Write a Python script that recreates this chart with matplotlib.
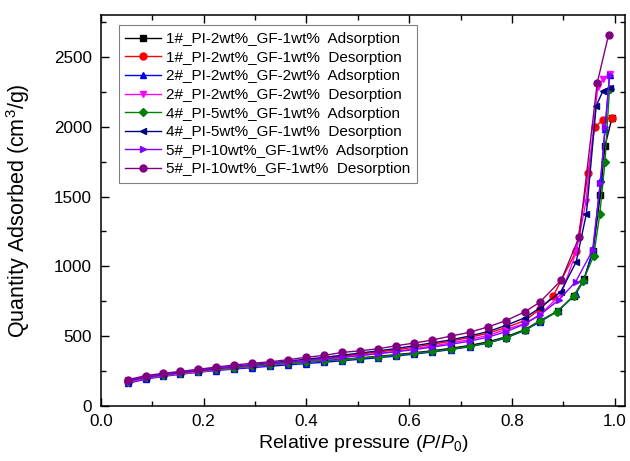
import matplotlib
matplotlib.use("Agg")
import matplotlib.pyplot as plt
from matplotlib.ticker import MultipleLocator

plt.rcParams['font.family'] = ['Liberation Sans', 'DejaVu Sans']
plt.rcParams['mathtext.fontset'] = 'custom'
plt.rcParams['mathtext.rm'] = 'Liberation Sans'
plt.rcParams['mathtext.it'] = 'Liberation Sans:italic'

# 1# PI-2wt% GF-1wt%
p_1a = [0.052, 0.087, 0.121, 0.155, 0.190, 0.225, 0.260, 0.295, 0.330, 0.365, 0.400, 0.435, 0.470, 0.505,
        0.540, 0.575, 0.610, 0.645, 0.681, 0.718, 0.754, 0.788, 0.825, 0.854, 0.890, 0.921, 0.940, 0.958,
        0.972, 0.981, 0.995]
q_1a = [175, 200, 218, 234, 248, 260, 272, 283, 294, 304, 314, 323, 333, 343,
        354, 366, 379, 394, 411, 432, 458, 493, 545, 607, 680, 790, 905, 1110,
        1511, 1861, 2066]
p_1d = [0.995, 0.977, 0.961, 0.948, 0.925, 0.880, 0.854, 0.825, 0.788, 0.754, 0.718, 0.681, 0.645, 0.610,
        0.575, 0.540, 0.505, 0.470, 0.435, 0.400, 0.365, 0.330, 0.295, 0.260, 0.225, 0.190, 0.155, 0.121,
        0.087, 0.052]
q_1d = [2066, 2047, 1999, 1665, 1108, 784, 690, 610, 560, 520, 490, 462, 440, 420,
        400, 385, 370, 355, 340, 325, 312, 300, 288, 275, 262, 248, 234, 220,
        200, 170]

# 2# PI-2wt% GF-2wt%
p_2a = [0.052, 0.087, 0.121, 0.155, 0.190, 0.225, 0.260, 0.295, 0.330, 0.365, 0.400, 0.435, 0.470, 0.505,
        0.540, 0.575, 0.610, 0.645, 0.681, 0.718, 0.754, 0.788, 0.825, 0.854, 0.890, 0.924, 0.940, 0.958,
        0.973, 0.981, 0.990]
q_2a = [160, 190, 210, 225, 240, 252, 263, 273, 283, 293, 302, 312, 322, 333,
        344, 356, 370, 385, 402, 423, 450, 485, 540, 600, 680, 800, 900, 1120,
        1624, 1987, 2369]
p_2d = [0.990, 0.978, 0.967, 0.944, 0.925, 0.896, 0.854, 0.825, 0.788, 0.754, 0.718, 0.681, 0.645, 0.610,
        0.575, 0.540, 0.505, 0.470, 0.435, 0.400, 0.365, 0.330, 0.295, 0.260, 0.225, 0.190, 0.155, 0.121,
        0.087, 0.052]
q_2d = [2376, 2345, 2285, 1461, 1100, 800, 650, 590, 545, 505, 475, 450, 428, 408,
        390, 374, 360, 345, 330, 316, 304, 292, 280, 268, 255, 241, 228, 213,
        195, 165]

# 4# PI-5wt% GF-1wt%
p_4a = [0.052, 0.087, 0.121, 0.155, 0.190, 0.225, 0.260, 0.295, 0.330, 0.365, 0.400, 0.435, 0.470, 0.505,
        0.540, 0.575, 0.610, 0.645, 0.681, 0.718, 0.754, 0.788, 0.825, 0.854, 0.888, 0.921, 0.938, 0.959,
        0.971, 0.981, 0.990]
q_4a = [178, 203, 220, 236, 250, 262, 273, 284, 295, 305, 313, 322, 331, 341,
        351, 362, 375, 389, 405, 425, 452, 488, 540, 607, 673, 788, 893, 1072,
        1373, 1744, 2274]
p_4d = [0.990, 0.977, 0.964, 0.945, 0.925, 0.895, 0.854, 0.825, 0.788, 0.754, 0.718, 0.681, 0.645, 0.610,
        0.575, 0.540, 0.505, 0.470, 0.435, 0.400, 0.365, 0.330, 0.295, 0.260, 0.225, 0.190, 0.155, 0.121,
        0.087, 0.052]
q_4d = [2278, 2256, 2149, 1378, 1030, 817, 700, 630, 575, 532, 500, 472, 450, 430,
        410, 393, 378, 362, 347, 333, 320, 307, 295, 282, 268, 254, 240, 225,
        207, 178]

# 5# PI-10wt% GF-1wt%
p_5a = [0.052, 0.087, 0.121, 0.155, 0.190, 0.225, 0.260, 0.295, 0.330, 0.365, 0.400, 0.435, 0.470, 0.505,
        0.540, 0.575, 0.610, 0.645, 0.681, 0.718, 0.754, 0.788, 0.825, 0.854, 0.891, 0.924, 0.957,
        0.972, 0.982, 0.990]
q_5a = [182, 207, 225, 241, 256, 269, 281, 292, 303, 314, 324, 336, 348, 360,
        373, 387, 402, 420, 440, 463, 492, 530, 585, 650, 757, 888, 1115,
        1600, 2000, 2370]
p_5d = [0.988, 0.966, 0.931, 0.896, 0.854, 0.825, 0.788, 0.754, 0.718, 0.681, 0.645, 0.610, 0.575, 0.540,
        0.505, 0.470, 0.435, 0.400, 0.365, 0.330, 0.295, 0.260, 0.225, 0.190, 0.155, 0.121, 0.087, 0.052]
q_5d = [2658, 2314, 1211, 900, 741, 673, 609, 566, 526, 499, 471, 449, 430, 408,
        394, 382, 361, 347, 330, 315, 304, 292, 277, 261, 246, 232, 215, 186]

series = [
    (p_1a, q_1a, "1#_PI-2wt%_GF-1wt%  Adsorption", "black", "s"),
    (p_1d, q_1d, "1#_PI-2wt%_GF-1wt%  Desorption", "red", "o"),
    (p_2a, q_2a, "2#_PI-2wt%_GF-2wt%  Adsorption", "blue", "^"),
    (p_2d, q_2d, "2#_PI-2wt%_GF-2wt%  Desorption", "magenta", "v"),
    (p_4a, q_4a, "4#_PI-5wt%_GF-1wt%  Adsorption", "green", "D"),
    (p_4d, q_4d, "4#_PI-5wt%_GF-1wt%  Desorption", "navy", "<"),
    (p_5a, q_5a, "5#_PI-10wt%_GF-1wt%  Adsorption", "#8000FF", ">"),
    (p_5d, q_5d, "5#_PI-10wt%_GF-1wt%  Desorption", "purple", "o"),
]

fig = plt.figure(figsize=(6.3, 4.61), dpi=100)
ax = fig.add_axes([0.160, 0.120, 0.832, 0.847])

for p, q, lab, col, mk in series:
    ms = 4 if mk in ("s", "D") else 5
    ax.plot(p, q, color=col, marker=mk, markersize=ms, linewidth=1.0, label=lab)

ax.set_xlim(0, 1.02)
ax.set_ylim(0, 2800)
ax.xaxis.set_major_locator(MultipleLocator(0.2))
ax.xaxis.set_minor_locator(MultipleLocator(0.1))
ax.yaxis.set_major_locator(MultipleLocator(500))
ax.yaxis.set_minor_locator(MultipleLocator(250))
ax.xaxis.set_major_formatter(matplotlib.ticker.FormatStrFormatter('%.1f'))
ax.tick_params(which='both', direction='in', top=True, right=True, labelsize=12.3, width=1.0)
ax.tick_params(which='major', length=6)
ax.tick_params(which='minor', length=3.5)
ax.tick_params(axis='x', which='major', pad=6)
ax.tick_params(axis='y', which='major', pad=6.5)
for s in ax.spines.values():
    s.set_linewidth(1.1)

ax.set_xlabel("Relative pressure ($P/P_0$)", fontsize=14, labelpad=3)
ax.set_ylabel("Quantity Adsorbed (cm$^3$/g)", fontsize=15.5)
ax.yaxis.set_label_coords(-0.132, 0.5)

leg = ax.legend(loc='upper left', bbox_to_anchor=(0.034, 0.974), borderaxespad=0,
                fontsize=11, fancybox=False, framealpha=1, edgecolor='gray',
                handlelength=2.3, labelspacing=0.3, borderpad=0.45, handletextpad=0.35)
leg.get_frame().set_linewidth(0.8)

plt.savefig("out.png", dpi=100)
plt.close()
